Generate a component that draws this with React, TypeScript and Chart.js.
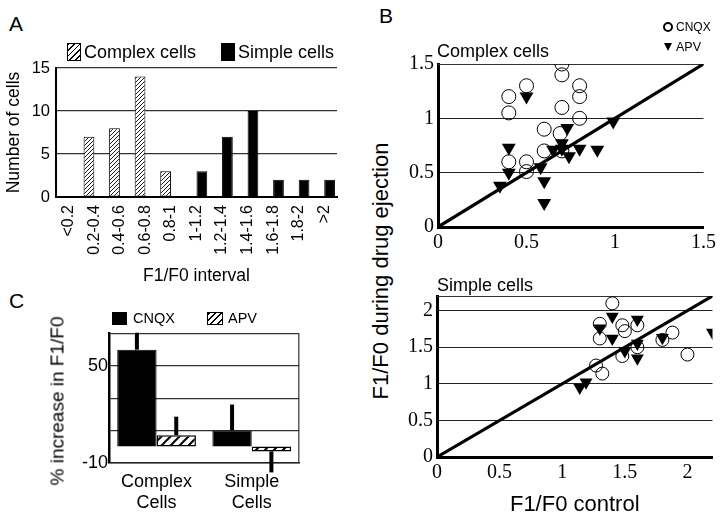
import React, { useEffect, useRef } from 'react';
import { Chart, registerables } from 'chart.js';
Chart.register(...registerables);

// ---------- Panel A data ----------
const histCategories = ['<0.2', '0.2-0.4', '0.4-0.6', '0.6-0.8', '0.8-1', '1-1.2', '1.2-1.4', '1.4-1.6', '1.6-1.8', '1.8-2', '>2'];
const complexCounts = [0, 7, 8, 14, 3, 0, 0, 0, 0, 0, 0];
const simpleCounts = [0, 0, 0, 0, 0, 3, 7, 10, 2, 2, 2];
const histYTicks = [0, 5, 10, 15];

// ---------- Panel B data ([control, during drug]) ----------
const complexCnqx: [number, number][] = [
  [0.7, 1.5], [0.7, 1.4], [0.5, 1.3], [0.4, 1.2], [0.4, 1.05], [0.8, 1.3], [0.8, 1.2],
  [0.7, 1.1], [0.8, 1.0], [0.6, 0.9], [0.69, 0.86], [0.6, 0.7], [0.4, 0.6], [0.5, 0.6],
  [0.5, 0.51], [0.7, 0.7],
];
const complexApv: [number, number][] = [
  [0.5, 1.2], [0.4, 0.73], [0.4, 0.5], [0.35, 0.38], [0.58, 0.55], [0.6, 0.42], [0.6, 0.22],
  [0.73, 0.91], [0.99, 0.97], [0.65, 0.71], [0.7, 0.77], [0.7, 0.72], [0.74, 0.65],
  [0.8, 0.72], [0.9, 0.71],
];
const simpleCnqx: [number, number][] = [
  [1.4, 2.1], [1.3, 1.82], [1.3, 1.62], [1.48, 1.8], [1.5, 1.72], [1.6, 1.8], [1.88, 1.7],
  [1.8, 1.6], [2.0, 1.4], [1.48, 1.38], [1.6, 1.5], [1.27, 1.25], [1.32, 1.14],
];
const simpleApv: [number, number][] = [
  [1.4, 1.92], [1.6, 1.88], [1.3, 1.76], [1.4, 1.62], [1.5, 1.45], [1.6, 1.55], [1.6, 1.35],
  [1.8, 1.63], [2.2, 1.7], [1.19, 1.02], [1.14, 0.95],
];
const bTopTicks = [0, 0.5, 1, 1.5];
const bBotTicks = [0, 0.5, 1, 1.5, 2];
const bTopMax = 1.5;
const bBotMax = 2.2;

// ---------- Panel C data ----------
const cCategories = [['Complex', 'Cells'], ['Simple', 'Cells']];
const cnqxMeans = [60, 10];
const cnqxErrs = [10.5, 16];
const apvMeans = [7, -3];
const apvErrs = [11.5, 13];
const cTickLabels = [-10, 20, 50];

const SANS = "'Liberation Sans', Arial, Helvetica, sans-serif";
const SERIF = "'Liberation Serif', 'Times New Roman', serif";

function makeHatch(size: number, lw: number) {
  const c = document.createElement('canvas');
  c.width = size;
  c.height = size;
  const g = c.getContext('2d')!;
  g.fillStyle = '#fff';
  g.fillRect(0, 0, size, size);
  g.strokeStyle = '#000';
  g.lineWidth = lw;
  g.beginPath();
  g.moveTo(-1, size + 1); g.lineTo(size + 1, -1);
  g.moveTo(-1, 1); g.lineTo(1, -1);
  g.moveTo(size - 1, size + 1); g.lineTo(size + 1, size - 1);
  g.stroke();
  return g.createPattern(c, 'repeat')!;
}

const framePlugin = {
  id: 'frame',
  beforeDatasetsDraw(chart: any, _a: any, opts: any) {
    const { ctx, chartArea: a } = chart;
    ctx.save();
    ctx.strokeStyle = opts.color || '#000';
    ctx.lineWidth = opts.width || 1;
    ctx.beginPath();
    if (opts.top) { ctx.moveTo(a.left, a.top + 0.5); ctx.lineTo(a.right, a.top + 0.5); }
    if (opts.right) { ctx.moveTo(a.right - 0.5, a.top); ctx.lineTo(a.right - 0.5, a.bottom); }
    ctx.stroke();
    ctx.restore();
  },
};

function makeErrorBarPlugin(errs: number[][]) {
  return {
    id: 'errorBars',
    afterDatasetsDraw(chart: any) {
      const { ctx } = chart;
      const y = chart.scales.y;
      ctx.save();
      ctx.strokeStyle = '#000';
      ctx.lineWidth = 4;
      chart.data.datasets.forEach((ds: any, i: number) => {
        const meta = chart.getDatasetMeta(i);
        meta.data.forEach((el: any, j: number) => {
          const v = ds.data[j];
          const e = errs[i][j];
          const end = v >= 0 ? v + e : v - e;
          ctx.beginPath();
          ctx.moveTo(el.x, y.getPixelForValue(v));
          ctx.lineTo(el.x, y.getPixelForValue(end));
          ctx.stroke();
        });
      });
      ctx.restore();
    },
  };
}

const toPts = (arr: [number, number][]) => arr.map(([x, y]) => ({ x, y }));
const identity = (max: number) => [0, max].map((v) => ({ x: v, y: v }));

function configA() {
  const hatch = makeHatch(4, 0.9);
  return {
    type: 'bar',
    data: {
      labels: histCategories,
      datasets: [
        { label: 'Complex cells', data: complexCounts, backgroundColor: hatch, borderColor: '#000', borderWidth: 1, borderSkipped: false },
        { label: 'Simple cells', data: simpleCounts, backgroundColor: '#000', borderColor: '#000', borderWidth: 1 },
      ],
    },
    options: {
      responsive: false,
      animation: false,
      datasets: { bar: { categoryPercentage: 0.84, barPercentage: 1 } },
      layout: { padding: { top: 18, right: 23, left: 0, bottom: 0 } },
      plugins: { legend: { display: false }, tooltip: { enabled: false } },
      scales: {
        x: {
          grid: { display: false, drawTicks: false },
          border: { color: '#000', width: 2 },
          ticks: { autoSkip: false, minRotation: 90, maxRotation: 90, padding: 8, color: '#000', font: { family: SANS, size: 16 } },
          title: { display: true, text: 'F1/F0 interval', color: '#000', font: { family: SANS, size: 17.5, lineHeight: 1.2 }, padding: { top: 0, bottom: 3 } },
          afterFit: (s: any) => { s.height = 93; },
        },
        y: {
          min: 0,
          max: 15,
          afterBuildTicks: (s: any) => { s.ticks = histYTicks.map((v) => ({ value: v })); },
          ticks: { padding: 6, color: '#000', font: { family: SANS, size: 16.5 } },
          grid: { color: '#333', lineWidth: 1.2, drawTicks: false },
          border: { color: '#000', width: 2 },
          title: { display: true, text: 'Number of cells', color: '#000', font: { family: SANS, size: 17.5, lineHeight: 1.2 }, padding: { top: 3.5, bottom: 0 } },
          afterFit: (s: any) => { s.width = 56; },
        },
      },
    },
  };
}

function configB(cnqx: [number, number][], apv: [number, number][], max: number, ticks: number[], yWidth: number, xHeight: number, padTop: number, padRight: number, circleR: number, triR: number, xTitle: string | null) {
  return {
    type: 'scatter',
    data: {
      datasets: [
        { label: 'APV', data: toPts(apv), pointStyle: 'triangle', rotation: 180, pointRadius: triR, backgroundColor: '#000', borderColor: '#000', borderWidth: 0, clip: 0 },
        { label: 'CNQX', data: toPts(cnqx), pointStyle: 'circle', pointRadius: circleR, backgroundColor: 'rgba(0,0,0,0)', borderColor: '#000', borderWidth: 1, clip: 0 },
        { label: 'identity', data: identity(max), showLine: true, borderColor: '#000', borderWidth: 3.2, pointRadius: 0, clip: 0 },
      ],
    },
    options: {
      responsive: false,
      animation: false,
      layout: { padding: { top: padTop, right: padRight, left: 0, bottom: 0 } },
      plugins: { legend: { display: false }, tooltip: { enabled: false }, frame: { top: true, width: 1, color: '#333' } },
      scales: {
        x: {
          type: 'linear',
          min: 0,
          max,
          afterBuildTicks: (s: any) => { s.ticks = ticks.map((v) => ({ value: v })); },
          grid: { display: false, drawTicks: false },
          border: { color: '#000', width: 3 },
          ticks: { padding: 4, color: '#000', font: { family: SERIF, size: 20, lineHeight: 1.2 }, callback: (v: any) => String(v) },
          title: xTitle ? { display: true, text: xTitle, color: '#000', font: { family: SANS, size: 22, lineHeight: 1 }, padding: { top: 0, bottom: 0 } } : { display: false },
          afterFit: (s: any) => { s.height = xHeight; },
        },
        y: {
          type: 'linear',
          min: 0,
          max,
          afterBuildTicks: (s: any) => { s.ticks = ticks.map((v) => ({ value: v })); },
          grid: { color: '#222', lineWidth: 1, drawTicks: false },
          border: { color: '#000', width: 3 },
          ticks: { padding: 4, color: '#000', font: { family: SERIF, size: 20 }, callback: (v: any) => String(v) },
          afterFit: (s: any) => { s.width = yWidth; },
        },
      },
    },
    plugins: [framePlugin],
  };
}

function configC() {
  const hatch = makeHatch(9, 2);
  return {
    type: 'bar',
    data: {
      labels: cCategories,
      datasets: [
        { label: 'CNQX', data: cnqxMeans, backgroundColor: '#000', borderColor: '#000', borderWidth: 1 },
        { label: 'APV', data: apvMeans, backgroundColor: hatch, borderColor: '#000', borderWidth: 1.5, borderSkipped: false },
      ],
    },
    options: {
      responsive: false,
      animation: false,
      datasets: { bar: { categoryPercentage: 0.827, barPercentage: 1 } },
      layout: { padding: { top: 17.5, right: 20.7, left: 0, bottom: 0 } },
      plugins: { legend: { display: false }, tooltip: { enabled: false }, frame: { right: true, width: 1.2, color: '#333' } },
      scales: {
        x: {
          grid: { display: false, drawTicks: false },
          border: { color: '#222', width: 1.5 },
          ticks: { padding: 8.4, color: '#000', font: { family: SANS, size: 18, lineHeight: 1.18 } },
          afterFit: (s: any) => { s.height = 53.3; },
        },
        y: {
          min: -10,
          max: 70,
          ticks: { stepSize: 10, padding: 1, color: '#000', font: { family: SANS, size: 18 }, callback: (v: any) => (cTickLabels.includes(v) ? String(v) : '') },
          grid: { color: '#333', lineWidth: 1.2, drawTicks: false },
          border: { color: '#000', width: 2.5 },
          afterFit: (s: any) => { s.width = 79; },
        },
      },
    },
    plugins: [framePlugin, makeErrorBarPlugin([cnqxErrs, apvErrs])],
  };
}

function ChartBox({ x, y, w, h, make }: { x: number; y: number; w: number; h: number; make: () => any }) {
  const ref = useRef<HTMLCanvasElement>(null);
  useEffect(() => {
    const chart = new Chart(ref.current as HTMLCanvasElement, make());
    return () => chart.destroy();
  }, []);
  return <canvas ref={ref} width={w} height={h} style={{ position: 'absolute', left: x, top: y, width: w, height: h }} />;
}

const txt = (left: number, centerY: number, size: number, text: string, extra: any = {}) => (
  <div style={{ position: 'absolute', left, top: centerY - size / 2, fontSize: size, lineHeight: 1, fontFamily: SANS, color: '#000', whiteSpace: 'nowrap', ...extra }}>{text}</div>
);

const vtxt = (cx: number, cy: number, size: number, text: string) => (
  <div style={{ position: 'absolute', left: cx, top: cy, transform: 'translate(-50%, -50%) rotate(-90deg)', fontSize: size, lineHeight: 1, fontFamily: SANS, whiteSpace: 'nowrap', color: '#000' }}>{text}</div>
);

const hatchCss = (w: number) => `repeating-linear-gradient(135deg, #000 0 ${w}px, #fff ${w}px ${w + 3}px)`;

export default function App() {
  return (
    <div style={{ position: 'absolute', left: 0, top: 0, width: 720, height: 516, background: '#fff', overflow: 'hidden' }}>
      {/* Panel letters */}
      {txt(9, 23, 21, 'A')}
      {txt(379, 15, 21, 'B')}
      {txt(9, 300, 21, 'C')}

      {/* Panel A */}
      <ChartBox x={0} y={50} w={360} h={240} make={configA} />
      <div style={{ position: 'absolute', left: 67, top: 43, width: 14, height: 18, boxSizing: 'border-box', border: '1px solid #000', background: hatchCss(1) }} />
      {txt(84, 52, 18, 'Complex cells')}
      <div style={{ position: 'absolute', left: 221, top: 43, width: 14, height: 18, background: '#000' }} />
      {txt(238, 52, 18, 'Simple cells')}

      {/* Panel B */}
      <ChartBox x={395} y={45} w={325} h={213} make={() => configB(complexCnqx, complexApv, bTopMax, bTopTicks, 43, 31, 19, 14, 7, 8, null)} />
      <ChartBox x={395} y={280} w={325} h={236} make={() => configB(simpleCnqx, simpleApv, bBotMax, bBotTicks, 42, 59, 16, 7, 6.5, 7.5, 'F1/F0 control')} />
      <div style={{ position: 'absolute', left: 663, top: 22, width: 10, height: 10, boxSizing: 'border-box', border: '2.5px solid #000', borderRadius: '50%' }} />
      {txt(676, 27, 12, 'CNQX')}
      <div style={{ position: 'absolute', left: 664, top: 43, width: 0, height: 0, borderLeft: '4px solid transparent', borderRight: '4px solid transparent', borderTop: '8px solid #000' }} />
      {txt(676, 47, 12.5, 'APV')}
      {txt(437, 51, 18, 'Complex cells')}
      {txt(437, 285, 18, 'Simple cells')}
      {vtxt(381, 271, 22, 'F1/F0 during drug ejection')}

      {/* Panel C */}
      <ChartBox x={30} y={316} w={290} h={200} make={configC} />
      <div style={{ position: 'absolute', left: 112, top: 312, width: 15, height: 13, background: '#000' }} />
      {txt(133, 318.5, 14.5, 'CNQX')}
      <div style={{ position: 'absolute', left: 207, top: 312, width: 16, height: 13, boxSizing: 'border-box', border: '1px solid #000', background: hatchCss(1.5) }} />
      {txt(228, 318.5, 14.5, 'APV')}
      {vtxt(57, 401, 19, '% increase in F1/F0')}
    </div>
  );
}
